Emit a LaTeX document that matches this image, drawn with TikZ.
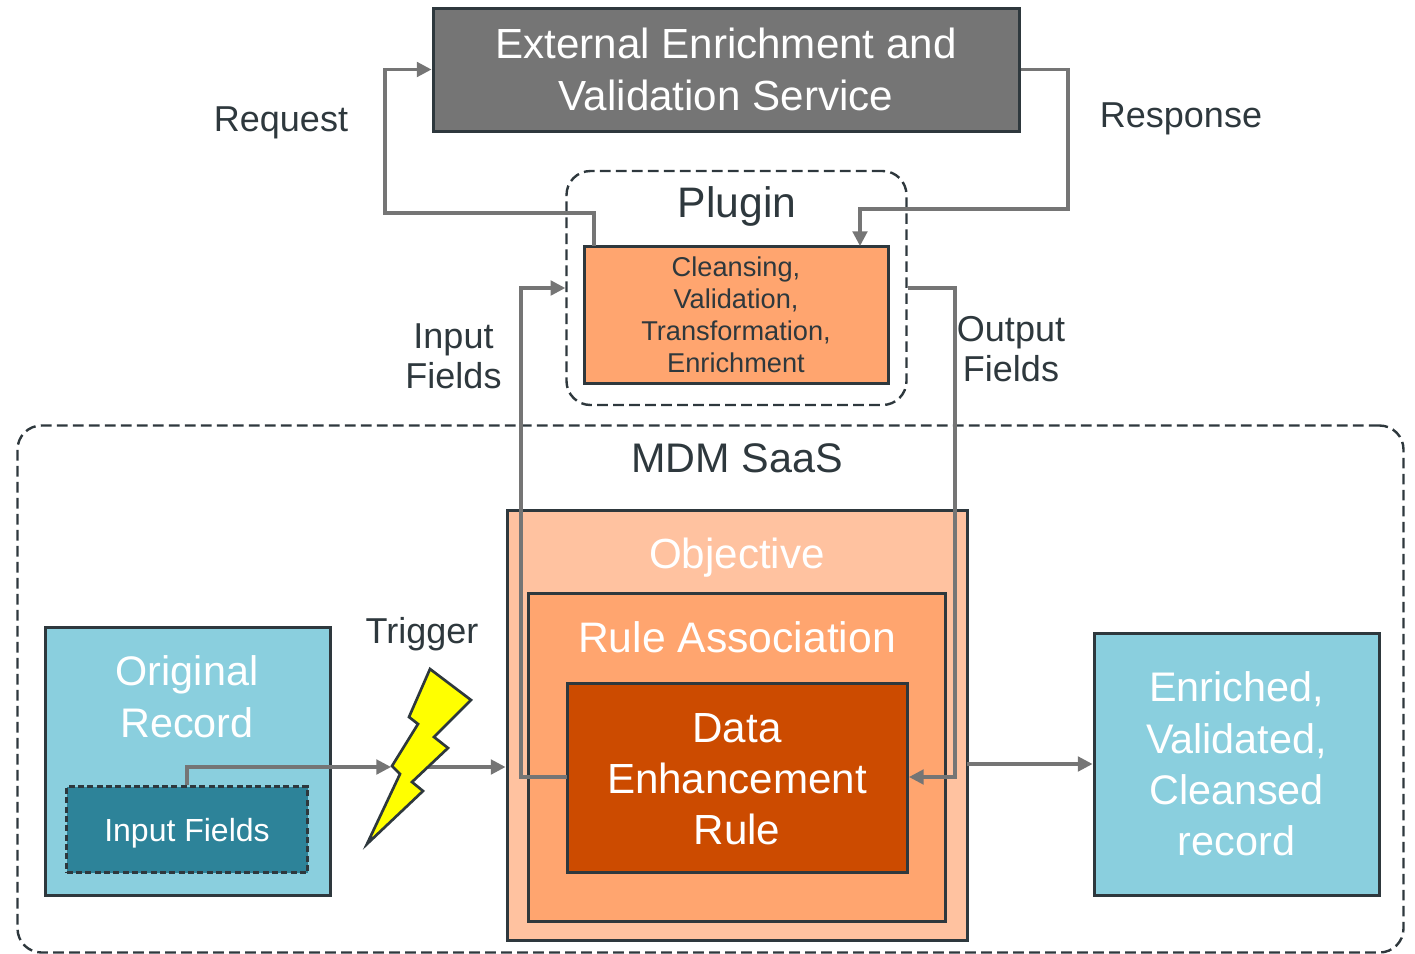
\documentclass[tikz,border=0pt]{standalone}
\usepackage{fontspec}
\setmainfont{Liberation Sans}
\usetikzlibrary{arrows.meta,calc}
\definecolor{inkdark}{HTML}{2E383D}
\definecolor{linegrey}{HTML}{757575}
\definecolor{teallight}{HTML}{8ACFDE}
\definecolor{tealdark}{HTML}{2D8399}
\definecolor{orangemid}{HTML}{FFA56F}
\definecolor{orangelight}{HTML}{FFC2A0}
\definecolor{orangedark}{HTML}{CC4B00}
\definecolor{boltyellow}{HTML}{FFFF00}
\newcommand{\fs}[2]{\fontsize{#1}{#2}\selectfont}
\tikzset{
  x=0.75pt,y=-0.75pt,
  box/.style={draw=inkdark,line width=2.25pt,inner sep=0pt,align=center},
  dashbox/.style={draw=inkdark,line width=1.8pt,dash pattern=on 8pt off 4pt,rounded corners=18pt,inner sep=0pt},
  conn/.style={draw=linegrey,line width=2.3pt,-{Triangle[length=11pt,width=11pt]}},
  lab/.style={text=inkdark,align=center,inner sep=0pt},
}
\newcommand{\boxat}[7][]{% opts,name,x1,y1,x2,y2,text
  \node[box,#1,minimum width=#5*0.75pt-#3*0.75pt,minimum height=#6*0.75pt-#4*0.75pt] (#2) at ({(#3+#5)/2},{(#4+#6)/2}) {#7};}
\begin{document}
\begin{tikzpicture}
\useasboundingbox (0,0) rectangle (1415,954);
% dashed containers
\node[dashbox,minimum width=1386*0.75pt,minimum height=527*0.75pt] (mdm) at (710.5,689) {};
\node[dashbox,minimum width=340*0.75pt,minimum height=234*0.75pt] (plugin) at (736.5,288) {};
% boxes
\boxat[fill=linegrey,text=white,font=\fs{31.6}{38.5}]{ext}{433}{8}{1019}{131}{External Enrichment and\\Validation Service}
\boxat[fill=orangemid,text=inkdark,font=\fs{20.4}{24}]{clean}{584}{246}{888}{383}{Cleansing,\\Validation,\\Transformation,\\Enrichment}
\boxat[fill=orangelight]{obj}{507}{510}{967}{940}{}
\boxat[fill=orangemid]{rule}{528}{593}{945}{921}{}
\boxat[fill=orangedark]{der}{567}{683}{907}{872}{}
\boxat[fill=teallight]{orig}{45}{627}{330}{895}{}
\boxat[fill=teallight,text=white,font=\fs{31}{38.6}]{enr}{1094}{633}{1379}{895}{Enriched,\\Validated,\\Cleansed\\record}
\node[draw=inkdark,line width=1.8pt,dash pattern=on 4.5pt off 2.5pt,fill=tealdark,inner sep=0pt,minimum width=241*0.75pt,minimum height=86*0.75pt] (inp) at (187,829.5) {};
% titles in boxes
\node[lab,text=white,font=\fs{24}{29}] (inpt) at (187,833) {Input Fields};
\node[lab,text=white,font=\fs{31.6}{38.2}] (dert) at (737,779) {Data\\Enhancement\\Rule};
\node[lab,text=white,font=\fs{31}{39}] (origt) at (187,697) {Original\\Record};
\node[lab,text=white,font=\fs{31.6}{38}] (objt) at (737,558) {Objective};
\node[lab,text=white,font=\fs{32}{38}] (rulet) at (737,637) {Rule Association};
% labels
\node[lab,font=\fs{32}{38}] (plugt) at (737,206) {Plugin};
\node[lab,font=\fs{31}{38}] (mdmt) at (737,458) {MDM SaaS};
\node[lab,font=\fs{27}{30}] (req) at (281,123) {Request};
\node[lab,font=\fs{27}{30}] (resp) at (1181,119) {Response};
\node[lab,font=\fs{27}{30}] (infl) at (453.5,356) {Input\\Fields};
\node[lab,font=\fs{27}{30}] (outfl) at (1011,349.5) {Output\\Fields};
\node[lab,font=\fs{27}{30}] (trig) at (422,634) {Trigger};
% connector waypoints
\coordinate (reqS) at (594,246);
\coordinate (respE) at (860,246);
\coordinate (boltW) at (391,767);
\coordinate (boltE) at (425,767);
\coordinate (derW) at (567,777);
\coordinate (derE) at (909,777);
\coordinate (objE) at (967,764);
% connectors
\draw[conn] (reqS) -- (594,213) -- (385,213) -- (385,0 |- ext.west) -- (ext.west);
\draw[conn] (ext.east) -- (1068,0 |- ext.east) -- (1068,209) -- (860,209) -- (respE);
\draw[conn] (derW) -- (521,777) -- (521,0 |- plugin.west) -- (plugin.west);
\draw[conn] (plugin.east) -- (955,0 |- plugin.east) -- (955,777) -- (derE);
\draw[conn] (inp.north) -- (187,767) -- (boltW);
\draw[conn] (boltE) -- (boltE -| obj.west);
\draw[conn] (objE) -- (objE -| enr.west);
% lightning bolt
\draw[fill=boltyellow,draw=inkdark,line width=2pt,line join=miter]
  (430,669) -- (471,700) -- (434,737) -- (448,748) -- (412,782) -- (423,791) -- (367,844)
  -- (400,774) -- (392,766) -- (418,724) -- (409,717) -- cycle;
\end{tikzpicture}
\end{document}
